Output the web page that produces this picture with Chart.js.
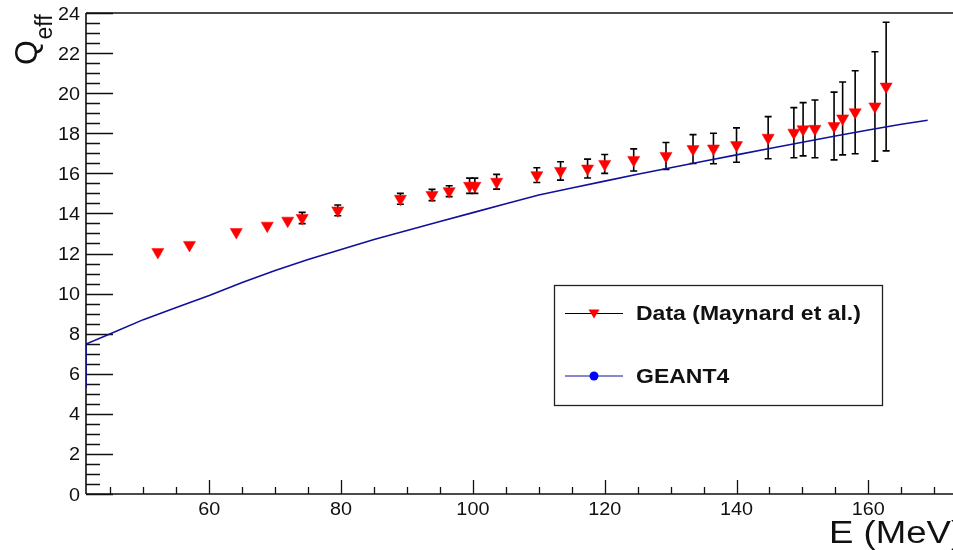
<!DOCTYPE html>
<html>
<head>
<meta charset="utf-8">
<script src="https://cdn.jsdelivr.net/npm/chart.js@4/dist/chart.umd.min.js"></script>
<style>
  html, body { margin: 0; padding: 0; background: #fff; overflow: hidden; }
  #wrap { position: absolute; left: 0; top: 0; width: 1000px; height: 550px; }
</style>
</head>
<body>
<div id="wrap"><canvas id="c" width="1000" height="550"></canvas></div>
<script>
// Measured effective charge vs. beam energy
const energy = [52.2, 57.0, 64.1, 68.8, 71.9, 74.1, 79.5, 89.0, 93.8, 96.4, 99.5, 100.3, 103.6, 109.7, 113.3, 117.4,
                120.0, 124.4, 129.3, 133.4, 136.5, 140.0, 144.8, 148.7, 150.1, 151.9, 154.8, 156.1, 158.0, 161.0, 162.7];
const qeff   = [12.07, 12.43, 13.07, 13.39, 13.64, 13.77, 14.15, 14.73, 14.92, 15.11, 15.38, 15.38, 15.58, 15.91, 16.12, 16.24,
                16.47, 16.67, 16.87, 17.21, 17.24, 17.41, 17.78, 18.03, 18.20, 18.22, 18.36, 18.74, 19.05, 19.34, 20.33];
const qeffErr = [0.15, 0.15, 0.15, 0.15, 0.15, 0.28, 0.27, 0.27, 0.28, 0.27, 0.38, 0.38, 0.37, 0.37, 0.46, 0.47,
                 0.47, 0.55, 0.67, 0.72, 0.76, 0.86, 1.05, 1.25, 1.33, 1.44, 1.69, 1.82, 2.07, 2.73, 3.21];

// Simulated curve
const simEnergy = [41.3, 41.3, 45, 50, 55, 60, 65, 70, 75, 80, 85, 90, 95, 100, 105, 110, 115, 120, 125,
                   130, 135, 140, 145, 150, 155, 160, 165, 169];
const simQeff   = [5.3, 7.48, 8.0, 8.7, 9.3, 9.9, 10.55, 11.15, 11.7, 12.2, 12.7, 13.15, 13.6, 14.04, 14.48, 14.92, 15.27, 15.61, 15.95,
                   16.28, 16.6, 16.92, 17.24, 17.55, 17.86, 18.16, 18.45, 18.65];

// Axis ticks
const xTicks = [60, 80, 100, 120, 140, 160];
const yTicks = [0, 2, 4, 6, 8, 10, 12, 14, 16, 18, 20, 22, 24];
const xMinorStep = 5;
const yMinorStep = 0.5;

const seriesNames = ['Data (Maynard et al.)', 'GEANT4'];
const xTitle = 'E (MeV)';

const X_MIN = 41.3, X_MAX = 175, Y_MIN = 0, Y_MAX = 24;
const AXIS_COLOR = '#111';
const DATA_RED = '#ff0000';
const SIM_BLUE = '#10109c';
const FONT = '"Liberation Sans", Arial, Helvetica, sans-serif';
const HSTRETCH = 1.1;   // text is drawn slightly wide

const dataPoints = energy.map((e, i) => ({ x: e, y: qeff[i], err: qeffErr[i] }));
const simPoints = simEnergy.map((e, i) => ({ x: e, y: simQeff[i] }));

const MARKER_R = 7;

function wideText(ctx, text, x, y, sx, align) {
  ctx.save();
  ctx.translate(x, y);
  ctx.scale(sx, 1);
  ctx.textAlign = align || 'left';
  ctx.fillText(text, 0, 0);
  ctx.restore();
}

// Frame, inward ticks, tick labels and axis titles; then the error bars under the markers
const frame = {
  id: 'frame',
  beforeDatasetsDraw(chart) {
    const { ctx, chartArea: a, scales: { x, y } } = chart;
    ctx.save();
    ctx.strokeStyle = AXIS_COLOR;
    ctx.lineWidth = 1.6;
    ctx.beginPath();
    ctx.moveTo(a.left, a.top); ctx.lineTo(a.right, a.top);
    ctx.moveTo(a.left, a.top); ctx.lineTo(a.left, a.bottom);
    ctx.moveTo(a.left, a.bottom); ctx.lineTo(a.right, a.bottom);
    ctx.stroke();

    ctx.lineWidth = 1.3;
    ctx.beginPath();
    // x ticks (pointing up into the frame)
    for (let v = Math.ceil(X_MIN / xMinorStep) * xMinorStep; v <= X_MAX; v += xMinorStep) {
      const px = Math.round(x.getPixelForValue(v)) + 0.5;
      const major = xTicks.includes(v);
      ctx.moveTo(px, a.bottom); ctx.lineTo(px, a.bottom - (major ? 14 : 7));
    }
    // y ticks (pointing right into the frame)
    for (let v = Y_MIN; v <= Y_MAX + 1e-9; v += yMinorStep) {
      const py = Math.round(y.getPixelForValue(v)) + 0.5;
      const major = yTicks.includes(Math.round(v * 100) / 100);
      ctx.moveTo(a.left, py); ctx.lineTo(a.left + (major ? 27 : 14), py);
    }
    ctx.stroke();

    // tick labels
    ctx.fillStyle = '#111';
    ctx.textBaseline = 'alphabetic';
    ctx.font = `18px ${FONT}`;
    xTicks.forEach(v => wideText(ctx, String(v), x.getPixelForValue(v), 515, HSTRETCH, 'center'));
    yTicks.forEach(v => wideText(ctx, String(v), 80, y.getPixelForValue(v) + 6.5, HSTRETCH, 'right'));

    // axis titles
    ctx.font = `31px ${FONT}`;
    wideText(ctx, xTitle, 829, 543, 1.18, 'left');

    ctx.save();
    ctx.translate(37, 65);
    ctx.rotate(-Math.PI / 2);
    ctx.font = `32px ${FONT}`;
    ctx.fillText('Q', 0, 0);
    const qw = ctx.measureText('Q').width;
    ctx.font = `23px ${FONT}`;
    ctx.fillText('eff', qw + 0.5, 15);
    ctx.restore();

    // error bars
    ctx.beginPath();
    ctx.rect(a.left, a.top, a.right - a.left, a.bottom - a.top);
    ctx.clip();
    ctx.strokeStyle = '#000';
    ctx.lineWidth = 1.6;
    dataPoints.forEach(p => {
      const px = x.getPixelForValue(p.x);
      const yTop = y.getPixelForValue(p.y + p.err);
      const yBot = y.getPixelForValue(p.y - p.err);
      const yc = y.getPixelForValue(p.y);
      if (yc - yTop < 4) return;
      ctx.beginPath();
      ctx.moveTo(px, yTop); ctx.lineTo(px, yBot);
      ctx.moveTo(px - 3.5, yTop); ctx.lineTo(px + 3.5, yTop);
      ctx.moveTo(px - 3.5, yBot); ctx.lineTo(px + 3.5, yBot);
      ctx.stroke();
    });
    ctx.restore();
  }
};

// Legend box
const legendBox = {
  id: 'legendBox',
  afterDraw(chart) {
    const { ctx } = chart;
    ctx.save();
    const L = { x: 554.5, y: 285.5, w: 328, h: 120 };
    ctx.fillStyle = '#fff';
    ctx.fillRect(L.x, L.y, L.w, L.h);
    ctx.strokeStyle = '#222';
    ctx.lineWidth = 1.3;
    ctx.strokeRect(L.x, L.y, L.w, L.h);

    const rows = [313.5, 376];
    // data row
    ctx.strokeStyle = '#000';
    ctx.lineWidth = 1;
    ctx.beginPath(); ctx.moveTo(565, rows[0]); ctx.lineTo(623, rows[0]); ctx.stroke();
    ctx.fillStyle = DATA_RED;
    ctx.beginPath();
    ctx.moveTo(594 - 5.5, rows[0] - 4);
    ctx.lineTo(594 + 5.5, rows[0] - 4);
    ctx.lineTo(594, rows[0] + 5);
    ctx.closePath(); ctx.fill();
    // simulation row
    ctx.strokeStyle = SIM_BLUE;
    ctx.beginPath(); ctx.moveTo(565, rows[1]); ctx.lineTo(623, rows[1]); ctx.stroke();
    ctx.fillStyle = '#0000ff';
    ctx.beginPath(); ctx.arc(594, rows[1], 4.5, 0, Math.PI * 2); ctx.fill();

    ctx.fillStyle = '#111';
    ctx.textBaseline = 'alphabetic';
    ctx.font = `bold 21px ${FONT}`;
    wideText(ctx, seriesNames[0], 636, 320, 1.095, 'left');
    wideText(ctx, seriesNames[1], 636, 383, 1.095, 'left');
    ctx.restore();
  }
};

new Chart(document.getElementById('c'), {
  type: 'scatter',
  data: {
    datasets: [
      {
        label: seriesNames[1],
        data: simPoints,
        showLine: true,
        borderColor: SIM_BLUE,
        borderWidth: 1.6,
        pointRadius: 0,
        tension: 0,
        order: 2
      },
      {
        label: seriesNames[0],
        data: dataPoints,
        showLine: false,
        pointStyle: 'triangle',
        rotation: 180,
        pointRadius: MARKER_R,
        pointBackgroundColor: DATA_RED,
        pointBorderColor: DATA_RED,
        pointBorderWidth: 0.5,
        order: 1
      }
    ]
  },
  options: {
    responsive: false,
    animation: false,
    events: [],
    layout: { padding: { top: 13, right: 32.8, left: 0, bottom: 0 } },
    plugins: { legend: { display: false }, tooltip: { enabled: false } },
    scales: {
      x: {
        type: 'linear',
        min: X_MIN, max: X_MAX,
        grid: { display: false },
        border: { display: false },
        ticks: { display: false },
        afterBuildTicks: s => { s.ticks = xTicks.map(v => ({ value: v })); },
        afterFit: s => { s.height = 56; s.paddingLeft = 0; s.paddingRight = 0; }
      },
      y: {
        type: 'linear',
        min: Y_MIN, max: Y_MAX,
        grid: { display: false },
        border: { display: false },
        ticks: { display: false },
        afterBuildTicks: s => { s.ticks = yTicks.map(v => ({ value: v })); },
        afterFit: s => { s.width = 86; s.paddingTop = 0; s.paddingBottom = 0; }
      }
    }
  },
  plugins: [frame, legendBox]
});
</script>
</body>
</html>
